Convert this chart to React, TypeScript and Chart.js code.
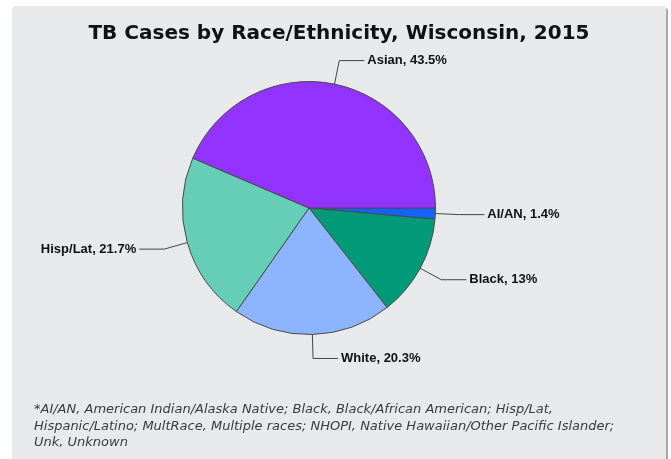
import React, { useEffect, useRef } from "react";
import { Chart, registerables } from "chart.js";

Chart.register(...registerables);

const categories = ["AI/AN", "Black", "White", "Hisp/Lat", "Asian"];
const percentages = [1.4, 13, 20.3, 21.7, 43.5];
const sliceColors = ["#1662ff", "#009a78", "#8db4ff", "#66cdb7", "#9233ff"];
const titleText = "TB Cases by Race/Ethnicity, Wisconsin, 2015";
const footnoteLines = [
  "*AI/AN, American Indian/Alaska Native; Black, Black/African American; Hisp/Lat,",
  "Hispanic/Latino; MultRace, Multiple races; NHOPI, Native Hawaiian/Other Pacific Islander;",
  "Unk, Unknown",
];

const W = 671;
const H = 459;

const textPlugin = {
  id: "customText",
  afterDraw(chart: any) {
    const ctx = chart.ctx as CanvasRenderingContext2D;
    ctx.save();
    // title
    ctx.fillStyle = "#111111";
    ctx.font = "bold 20px 'DejaVu Sans'";
    ctx.textAlign = "center";
    ctx.textBaseline = "middle";
    ctx.fillText(titleText, 339, 34);

    // leader lines and labels
    const meta = chart.getDatasetMeta(0);
    ctx.font = "bold 13px 'Liberation Sans'";
    ctx.textBaseline = "middle";
    meta.data.forEach((arc: any, i: number) => {
      const mid = (arc.startAngle + arc.endAngle) / 2;
      const r = arc.outerRadius;
      const cx = arc.x;
      const cy = arc.y;
      const ex = cx + Math.cos(mid) * r;
      const ey = cy + Math.sin(mid) * r;
      const bx = cx + Math.cos(mid) * (r + 24);
      const by = cy + Math.sin(mid) * (r + 24);
      const dir = Math.cos(mid) >= 0 ? 1 : -1;
      const hx = bx + dir * 25;
      ctx.strokeStyle = "#444444";
      ctx.lineWidth = 1;
      ctx.beginPath();
      ctx.moveTo(ex, ey);
      ctx.lineTo(bx, by);
      ctx.lineTo(hx, by);
      ctx.stroke();
      ctx.fillStyle = "#111111";
      ctx.textAlign = dir > 0 ? "left" : "right";
      ctx.fillText(
        `${categories[i]}, ${percentages[i]}%`,
        hx + dir * 3,
        by
      );
    });

    // footnote
    ctx.fillStyle = "#3a3a3a";
    ctx.font = "italic 13px 'DejaVu Sans'";
    ctx.textAlign = "left";
    ctx.textBaseline = "middle";
    footnoteLines.forEach((line, i) => {
      ctx.fillText(line, 34, 410 + i * 16.5);
    });
    ctx.restore();
  },
};

export default function App() {
  const ref = useRef<HTMLCanvasElement | null>(null);
  useEffect(() => {
    if (!ref.current) return;
    const chart = new Chart(ref.current, {
      type: "pie",
      data: {
        labels: categories,
        datasets: [
          {
            data: percentages,
            backgroundColor: sliceColors,
            borderColor: "#4a4a4a",
            borderWidth: 1,
          },
        ],
      },
      options: {
        animation: false,
        responsive: false,
        rotation: 90,
        layout: {
          padding: { left: 182, right: 235, top: 81, bottom: 124 },
        },
        plugins: {
          legend: { display: false },
          tooltip: { enabled: false },
          title: { display: false },
        },
      },
      plugins: [textPlugin],
    });
    return () => chart.destroy();
  }, []);

  return (
    <div
      style={{
        position: "absolute",
        left: 0,
        top: 0,
        width: W,
        height: H,
        overflow: "hidden",
        background: "#ffffff",
      }}
    >
      <div
        style={{
          position: "absolute",
          left: 12,
          top: 6,
          width: 654,
          height: H,
          background: "#e8e9eb",
          borderTopLeftRadius: 4,
          borderTopRightRadius: 3,
          boxShadow: "2px 2px 0 #a9a9a9",
        }}
      />
      <canvas
        ref={ref}
        width={W}
        height={H}
        style={{ position: "absolute", left: 0, top: 0, width: W, height: H }}
      />
    </div>
  );
}
